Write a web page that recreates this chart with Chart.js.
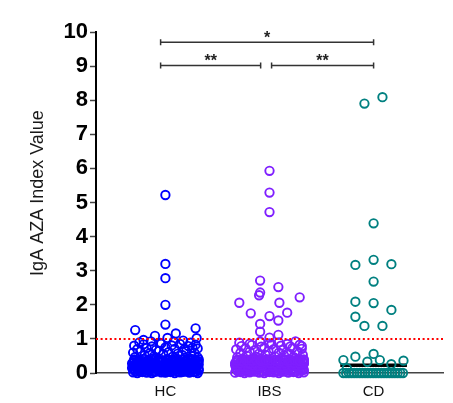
<!DOCTYPE html>
<html>
<head>
<meta charset="utf-8">
<script src="https://cdn.jsdelivr.net/npm/chart.js@4.4.1/dist/chart.umd.min.js"></script>
<style>
  html, body { margin: 0; padding: 0; background: #fff; }
  #wrap { width: 453px; height: 403px; }
</style>
</head>
<body>
<div id="wrap"><canvas id="c" width="453" height="403"></canvas></div>
<script>
// ---------- data ----------
const categories = ['HC', 'IBS', 'CD'];
const yTicks = [0, 1, 2, 3, 4, 5, 6, 7, 8, 9, 10];
const yTitle = 'IgA AZA Index Value';
const cutoff = 1.0;
const medianValues = [0.12, 0.14, 0.23];

const hcValues = [
  5.22, 3.20, 2.78, 2.00, 1.42, 1.31, 1.26, 1.16, 1.09, 1.03, 1.02, 0.97,
  0.47, 0.52, 0.49, 0.55, 0.48, 0.53, 0.50, 0.46,
  0.60, 0.63, 0.58, 0.65, 0.61, 0.57, 0.64, 0.59,
  0.70, 0.73, 0.68, 0.75, 0.71, 0.69, 0.74, 0.72,
  0.80, 0.84, 0.78, 0.86, 0.81, 0.85, 0.79, 0.83,
  0.90, 0.93, 0.88, 0.92, 0.95, 0.89,
  0.02, 0.00, 0.03, 0.01, 0.00, 0.04, 0.02, 0.01, 0.03, 0.00, 0.02, 0.04, 0.01, 0.03, 0.00,
  0.09, 0.07, 0.10, 0.08, 0.06, 0.11, 0.08, 0.09, 0.07, 0.10, 0.08, 0.06, 0.09, 0.11, 0.07,
  0.15, 0.17, 0.14, 0.18, 0.16, 0.15, 0.19, 0.17, 0.14, 0.16, 0.18, 0.15, 0.17, 0.14, 0.16,
  0.24, 0.22, 0.25, 0.23, 0.26, 0.22, 0.24, 0.27, 0.23, 0.25, 0.22, 0.26, 0.24, 0.23, 0.25,
  0.31, 0.33, 0.30, 0.34, 0.32, 0.30, 0.33, 0.31, 0.34, 0.32, 0.30, 0.33, 0.31, 0.34, 0.32,
  0.40, 0.38, 0.41, 0.39, 0.42, 0.40, 0.38, 0.41, 0.39, 0.42, 0.40, 0.38, 0.41, 0.39, 0.40,
  0.05, 0.04, 0.06, 0.05, 0.03, 0.06, 0.05, 0.04, 0.06, 0.05, 0.03, 0.05, 0.06, 0.04,
  0.12, 0.13, 0.11, 0.12, 0.14, 0.12, 0.13, 0.11, 0.12, 0.14, 0.13, 0.12, 0.11, 0.13, 0.12,
  0.20, 0.21, 0.19, 0.20, 0.22, 0.20, 0.21, 0.19, 0.20, 0.21, 0.19, 0.22, 0.20, 0.21,
  0.28, 0.29, 0.27, 0.28, 0.30, 0.28, 0.29, 0.27, 0.28, 0.30, 0.29, 0.27, 0.28, 0.29, 0.28,
  0.36, 0.37, 0.35, 0.36, 0.38, 0.36, 0.35, 0.37, 0.36, 0.38, 0.35, 0.36, 0.37, 0.36, 0.35
];
const hcSpread = [
  0, 0, 0, 0, 0, 0.29, -0.29, 0.10, -0.10, 0.02, 0.30, -0.21,
  -0.29, -0.20, -0.11, -0.02, 0.07, 0.16, 0.25, 0.31,
  -0.31, -0.24, -0.15, -0.06, 0.03, 0.12, 0.20, 0.28,
  -0.27, -0.18, -0.09, 0.00, 0.09, 0.18, 0.26, 0.31,
  -0.30, -0.21, -0.13, -0.04, 0.06, 0.14, 0.22, 0.29,
  -0.25, -0.14, -0.05, 0.08, 0.17, 0.24,
  -0.31, -0.27, -0.22, -0.18, -0.13, -0.09, -0.04, 0.00, 0.05, 0.09, 0.14, 0.18, 0.23, 0.27, 0.31,
  -0.30, -0.25, -0.20, -0.16, -0.11, -0.07, -0.02, 0.03, 0.07, 0.12, 0.16, 0.21, 0.25, 0.29, 0.32,
  -0.32, -0.28, -0.23, -0.19, -0.14, -0.10, -0.05, -0.01, 0.04, 0.08, 0.13, 0.17, 0.22, 0.26, 0.30,
  -0.30, -0.26, -0.21, -0.17, -0.12, -0.08, -0.03, 0.02, 0.06, 0.11, 0.15, 0.20, 0.24, 0.28, 0.32,
  -0.31, -0.27, -0.22, -0.18, -0.13, -0.09, -0.04, 0.00, 0.05, 0.10, 0.14, 0.19, 0.23, 0.27, 0.31,
  -0.30, -0.25, -0.21, -0.16, -0.12, -0.07, -0.03, 0.02, 0.07, 0.11, 0.16, 0.20, 0.25, 0.29, 0.32,
  -0.29, -0.245, -0.20, -0.155, -0.11, -0.065, -0.02, 0.025, 0.07, 0.115, 0.16, 0.205, 0.25, 0.295,
  -0.31, -0.265, -0.22, -0.175, -0.13, -0.085, -0.04, 0.005, 0.05, 0.095, 0.14, 0.185, 0.23, 0.275, 0.32,
  -0.295, -0.25, -0.205, -0.16, -0.115, -0.07, -0.025, 0.02, 0.065, 0.11, 0.155, 0.20, 0.245, 0.29,
  -0.32, -0.275, -0.23, -0.185, -0.14, -0.095, -0.05, -0.005, 0.04, 0.085, 0.13, 0.175, 0.22, 0.265, 0.31,
  -0.30, -0.255, -0.21, -0.165, -0.12, -0.075, -0.03, 0.015, 0.06, 0.105, 0.15, 0.195, 0.24, 0.285, 0.32
];

const ibsValues = [
  5.93, 5.29, 4.72, 2.71, 2.52, 2.36, 2.28, 2.22, 2.06, 2.06, 1.77, 1.75, 1.67, 1.54, 1.44, 1.21, 1.12, 1.04,
  0.46, 0.51, 0.48, 0.54, 0.49, 0.52, 0.47, 0.53,
  0.59, 0.62, 0.57, 0.64, 0.60, 0.58, 0.63,
  0.69, 0.72, 0.67, 0.74, 0.70, 0.68, 0.73, 0.71,
  0.79, 0.82, 0.77, 0.84, 0.80, 0.78, 0.83,
  0.89, 0.86, 0.92, 0.87, 0.90, 0.85, 0.93, 0.79,
  0.01, 0.03, 0.00, 0.02, 0.04, 0.01, 0.00, 0.03, 0.02, 0.00, 0.04, 0.01, 0.03, 0.00, 0.02,
  0.08, 0.10, 0.07, 0.09, 0.11, 0.06, 0.08, 0.10, 0.07, 0.09, 0.11, 0.08, 0.06, 0.10, 0.09,
  0.16, 0.14, 0.18, 0.15, 0.17, 0.19, 0.14, 0.16, 0.18, 0.15, 0.17, 0.14, 0.19, 0.16, 0.15,
  0.23, 0.25, 0.22, 0.26, 0.24, 0.22, 0.27, 0.23, 0.25, 0.22, 0.26, 0.24, 0.23, 0.25, 0.27,
  0.32, 0.30, 0.34, 0.31, 0.33, 0.30, 0.32, 0.35, 0.31, 0.33, 0.30, 0.34, 0.32, 0.31, 0.33,
  0.39, 0.42, 0.38, 0.41, 0.40, 0.43, 0.39, 0.41, 0.38, 0.42, 0.40, 0.39, 0.43, 0.41, 0.40,
  0.05, 0.06, 0.04, 0.05, 0.06, 0.04, 0.05, 0.06, 0.04, 0.05, 0.06, 0.05, 0.04, 0.06,
  0.13, 0.12, 0.11, 0.13, 0.12, 0.14, 0.12, 0.11, 0.13, 0.12, 0.14, 0.11, 0.12, 0.13, 0.12,
  0.21, 0.20, 0.19, 0.21, 0.20, 0.22, 0.19, 0.20, 0.21, 0.19, 0.22, 0.20, 0.21, 0.20,
  0.29, 0.28, 0.30, 0.27, 0.28, 0.29, 0.30, 0.28, 0.27, 0.29, 0.28, 0.30, 0.28, 0.27, 0.29,
  0.36, 0.35, 0.37, 0.36, 0.38, 0.35, 0.36, 0.37, 0.36, 0.35, 0.38, 0.36, 0.37, 0.35, 0.36
];
const ibsSpread = [
  0, 0, 0, -0.09, 0.085, -0.09, -0.10, 0.29, -0.29, 0.095, 0.17, -0.18, 0, 0.085, -0.09, -0.09, 0.085, 0,
  -0.31, -0.22, -0.13, -0.04, 0.05, 0.14, 0.23, 0.32,
  -0.28, -0.19, -0.10, -0.01, 0.09, 0.18, 0.27,
  -0.32, -0.23, -0.14, -0.05, 0.04, 0.13, 0.22, 0.31,
  -0.27, -0.17, -0.08, 0.02, 0.11, 0.20, 0.29,
  -0.29, -0.19, -0.09, 0.00, 0.09, 0.17, 0.25, 0.31,
  -0.33, -0.28, -0.24, -0.19, -0.14, -0.10, -0.05, 0.00, 0.04, 0.09, 0.14, 0.18, 0.23, 0.28, 0.33,
  -0.31, -0.26, -0.21, -0.17, -0.12, -0.07, -0.03, 0.02, 0.07, 0.11, 0.16, 0.21, 0.25, 0.30, 0.33,
  -0.32, -0.29, -0.23, -0.18, -0.13, -0.09, -0.04, 0.01, 0.05, 0.10, 0.15, 0.19, 0.24, 0.29, 0.32,
  -0.33, -0.27, -0.22, -0.16, -0.11, -0.06, -0.02, 0.03, 0.08, 0.12, 0.17, 0.22, 0.26, 0.31, 0.33,
  -0.32, -0.27, -0.23, -0.18, -0.14, -0.09, -0.04, 0.00, 0.05, 0.10, 0.14, 0.19, 0.24, 0.28, 0.32,
  -0.31, -0.26, -0.21, -0.17, -0.12, -0.08, -0.03, 0.02, 0.06, 0.11, 0.15, 0.20, 0.25, 0.29, 0.33,
  -0.305, -0.26, -0.215, -0.165, -0.12, -0.075, -0.025, 0.02, 0.065, 0.115, 0.16, 0.205, 0.255, 0.30,
  -0.32, -0.28, -0.235, -0.19, -0.145, -0.095, -0.05, -0.005, 0.045, 0.09, 0.135, 0.18, 0.23, 0.275, 0.32,
  -0.31, -0.26, -0.21, -0.155, -0.11, -0.065, -0.02, 0.03, 0.075, 0.12, 0.165, 0.215, 0.26, 0.305,
  -0.33, -0.285, -0.24, -0.19, -0.14, -0.09, -0.045, 0.005, 0.055, 0.10, 0.145, 0.195, 0.24, 0.29, 0.33,
  -0.315, -0.27, -0.225, -0.175, -0.13, -0.085, -0.035, 0.01, 0.055, 0.105, 0.15, 0.195, 0.245, 0.29, 0.33
];

const cdValues = [
  8.09, 7.90, 4.39, 3.32, 3.17, 3.19, 2.68, 2.09, 2.05, 1.85, 1.65, 1.38, 1.38,
  0.38, 0.48, 0.33, 0.56, 0.38, 0.26, 0.36, 0.14,
  0, 0, 0, 0, 0, 0, 0, 0, 0, 0, 0, 0, 0, 0, 0, 0, 0, 0, 0, 0, 0, 0, 0
];
const cdSpread = [
  0.085, -0.088, 0, 0, -0.175, 0.171, 0, -0.175, 0, 0.171, -0.175, -0.088, 0.085,
  -0.29, -0.175, -0.06, 0, 0.06, 0.17, 0.287, -0.257,
  -0.29, -0.264, -0.238, -0.212, -0.186, -0.16, -0.134, -0.108, -0.082, -0.056, -0.03, -0.004,
  0.022, 0.048, 0.074, 0.10, 0.126, 0.152, 0.178, 0.204, 0.23, 0.256, 0.282
];

// significance brackets
const bracketFrom = [0.954, 0.954, 2.02];
const bracketTo = [3.0, 1.915, 3.0];
const bracketY = [9.7, 9.02, 9.02];
const bracketLabels = ['*', '**', '**'];

// ---------- build ----------
const colors = ['#0000ff', '#7f1fff', '#008080'];
const groupValues = [hcValues, ibsValues, cdValues];
const groupSpread = [hcSpread, ibsSpread, cdSpread];
const FONT = "'Liberation Sans', Arial, Helvetica, sans-serif";
const xMin = 1 / 3, xMax = categories.length + 2 / 3;

const datasets = [];
datasets.push({
  type: 'scatter', showLine: true, order: 0,
  data: [{ x: xMin, y: cutoff }, { x: xMax, y: cutoff }],
  borderColor: '#ff0000', borderWidth: 2, borderDash: [2, 2.6],
  pointRadius: 0
});
categories.forEach((cat, ci) => {
  const vals = groupValues[ci], sp = groupSpread[ci];
  const n = Math.min(vals.length, sp.length);
  const pts = [];
  for (let i = 0; i < n; i++) pts.push({ x: ci + 1 + sp[i], y: vals[i] });
  datasets.push({
    type: 'scatter', order: 1, clip: false, label: cat,
    data: pts,
    borderColor: colors[ci], backgroundColor: 'rgba(0,0,0,0)',
    pointRadius: 4.2, borderWidth: 1.9, pointStyle: 'circle'
  });
});
categories.forEach((cat, ci) => {
  datasets.push({
    type: 'scatter', showLine: true, order: 2,
    data: [{ x: ci + 1 - 0.32, y: medianValues[ci] }, { x: ci + 1 + 0.32, y: medianValues[ci] }],
    borderColor: '#000', borderWidth: 3.5, pointRadius: 0
  });
});

const annotPlugin = {
  id: 'annot',
  afterDraw(chart) {
    const { ctx } = chart;
    const xs = chart.scales.x, ys = chart.scales.y;
    ctx.save();
    ctx.strokeStyle = '#333';
    ctx.fillStyle = '#222';
    ctx.lineWidth = 1.5;
    ctx.font = 'bold 16px ' + FONT;
    ctx.textAlign = 'center';
    ctx.textBaseline = 'alphabetic';
    for (let i = 0; i < bracketFrom.length; i++) {
      const x1 = xs.getPixelForValue(bracketFrom[i]);
      const x2 = xs.getPixelForValue(bracketTo[i]);
      const yy = ys.getPixelForValue(bracketY[i]);
      ctx.beginPath();
      ctx.moveTo(x1, yy); ctx.lineTo(x2, yy);
      ctx.moveTo(x1, yy - 3); ctx.lineTo(x1, yy + 3);
      ctx.moveTo(x2, yy - 3); ctx.lineTo(x2, yy + 3);
      ctx.stroke();
      ctx.fillText(bracketLabels[i], (x1 + x2) / 2, yy + 0.5);
    }
    ctx.fillStyle = '#1a1a1a';
    ctx.font = '18px ' + FONT;
    ctx.textBaseline = 'middle';
    ctx.translate(38, (ys.top + ys.bottom) / 2 - 9.5);
    ctx.rotate(-Math.PI / 2);
    ctx.fillText(yTitle, 0, 0);
    ctx.restore();
  }
};

new Chart(document.getElementById('c'), {
  type: 'scatter',
  data: { datasets },
  options: {
    responsive: false,
    animation: false,
    events: [],
    layout: { padding: { left: 0, right: 10, top: 32, bottom: 0 } },
    plugins: { legend: { display: false }, tooltip: { enabled: false }, title: { display: false } },
    scales: {
      x: {
        type: 'linear', min: xMin, max: xMax,
        afterBuildTicks: (s) => { s.ticks = categories.map((c, i) => ({ value: i + 1 })); },
        afterFit: (s) => { s.height = 30; },
        grid: { display: false },
        border: { display: true, color: '#444', width: 1.6 },
        ticks: {
          autoSkip: false, maxRotation: 0, padding: 2,
          color: '#111', font: { family: FONT, size: 15 },
          callback: (v) => categories[Math.round(v) - 1] || ''
        }
      },
      y: {
        type: 'linear', min: yTicks[0], max: yTicks[yTicks.length - 1],
        afterBuildTicks: (s) => { s.ticks = yTicks.map(v => ({ value: v })); },
        afterFit: (s) => { s.width = 96; },
        grid: { display: true, drawOnChartArea: false, drawTicks: true, tickLength: 6, tickColor: '#444', tickWidth: 1.5 },
        border: { display: true, color: '#000', width: 2 },
        ticks: {
          padding: 2, color: '#000',
          font: { family: FONT, size: 22, weight: 'bold' }
        }
      }
    }
  },
  plugins: [annotPlugin]
});
</script>
</body>
</html>
